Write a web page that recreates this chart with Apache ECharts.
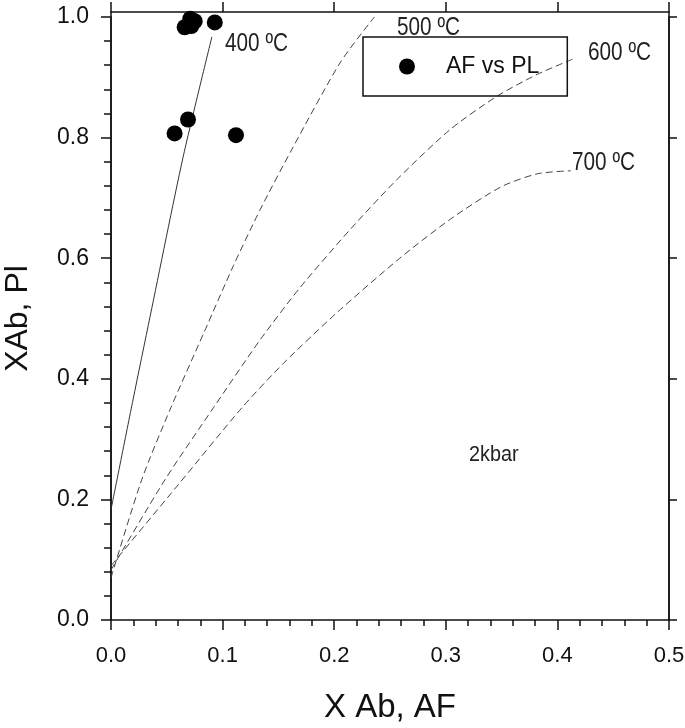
<!DOCTYPE html>
<html>
<head>
<meta charset="utf-8">
<script src="https://cdn.jsdelivr.net/npm/echarts@6/dist/echarts.min.js"></script>
<style>
  html, body { margin: 0; padding: 0; background: #fff; }
  #chart { width: 685px; height: 728px; }
</style>
</head>
<body>
<div id="chart"></div>
<script>
// measured samples: X Ab in alkali feldspar vs X Ab in plagioclase
const afX = [0.071, 0.075, 0.066, 0.072, 0.093, 0.069, 0.057, 0.112];
const plY = [0.997, 0.993, 0.983, 0.985, 0.991, 0.830, 0.807, 0.804];

// isotherms at 2 kbar
const iso400X = [0, 0.0197, 0.035, 0.0644, 0.0904];
const iso400Y = [0.183, 0.365, 0.503, 0.766, 0.967];
const iso500X = [0, 0.0276, 0.0536, 0.0829, 0.1098, 0.1338, 0.1622, 0.2056, 0.236];
const iso500Y = [0.07, 0.233, 0.352, 0.475, 0.588, 0.681, 0.781, 0.925, 1.0];
const iso600X = [0, 0.0485, 0.0918, 0.1338, 0.1697, 0.2145, 0.2565, 0.3043, 0.3462, 0.3821, 0.4136];
const iso600Y = [0.083, 0.233, 0.352, 0.465, 0.552, 0.648, 0.731, 0.814, 0.869, 0.905, 0.930];
const iso700X = [0, 0.0601, 0.1173, 0.1547, 0.2026, 0.2588, 0.3043, 0.3492, 0.3821, 0.412];
const iso700Y = [0.09, 0.224, 0.352, 0.426, 0.510, 0.600, 0.665, 0.718, 0.740, 0.745];

const FONT = 'Arial, "Liberation Sans", sans-serif';

const zip = (xs, ys) => xs.map((x, i) => [x, ys[i]]);

const chart = echarts.init(document.getElementById('chart'), null, { renderer: 'canvas' });

const AX = { color: '#111', width: 1.5 };

const isoLine = (name, xs, ys, dashed) => ({
    name: name,
    type: 'line',
    xAxisIndex: 0,
    yAxisIndex: 0,
    data: zip(xs, ys),
    smooth: 0.25,
    showSymbol: false,
    silent: true,
    lineStyle: {
        color: dashed ? '#444' : '#333',
        width: 1,
        type: dashed ? [7, 4] : 'solid'
    },
    z: 2
});

// condensed label text, as in the original figure
const label = (text, left, top, size, sx) => ({
    type: 'text', left: left, top: top,
    scaleX: sx, originX: 0,
    style: { text: text, fontSize: size, fill: '#222', fontFamily: FONT }
});

const frameAxis = (pos) => ({
    type: 'value', gridIndex: 1, position: pos, min: 0, max: 1,
    axisLine: { show: true, onZero: false, lineStyle: AX },
    axisTick: { show: false }, axisLabel: { show: false }, splitLine: { show: false }
});

const option = {
    animation: false,
    backgroundColor: '#fff',
    textStyle: { fontFamily: FONT },
    grid: [
        // data grid
        { left: 111, right: 16, top: 17, bottom: 108, outerBoundsMode: 'none', containLabel: false },
        // frame grid (box extends a bit above 1.0)
        { left: 111, right: 16, top: 12, bottom: 108, outerBoundsMode: 'none', containLabel: false }
    ],
    xAxis: [
        {
            type: 'value', gridIndex: 0, min: 0, max: 0.5, interval: 0.1,
            name: 'X Ab, AF', nameLocation: 'middle', nameGap: 71,
            nameTextStyle: { fontSize: 33, color: '#111', fontFamily: FONT },
            axisLine: { show: true, onZero: false, lineStyle: AX },
            axisTick: { show: true, inside: false, length: 10, lineStyle: AX },
            minorTick: { show: true, splitNumber: 5, length: 6, lineStyle: AX },
            axisLabel: { fontSize: 22, color: '#111', margin: 25, formatter: v => v.toFixed(1) },
            splitLine: { show: false }
        },
        {
            // top border with upward ticks
            type: 'value', gridIndex: 1, position: 'top', min: 0, max: 0.5, interval: 0.1,
            axisLine: { show: true, onZero: false, lineStyle: AX },
            axisTick: { show: true, inside: false, length: 10, lineStyle: AX },
            axisLabel: { show: false },
            splitLine: { show: false }
        }
    ],
    yAxis: [
        {
            type: 'value', gridIndex: 0, min: 0, max: 1, interval: 0.2,
            name: 'XAb, Pl', nameLocation: 'middle', nameGap: 77,
            nameTextStyle: { fontSize: 32, color: '#111', fontFamily: FONT },
            axisLine: { show: true, onZero: false, lineStyle: AX },
            axisTick: { show: true, inside: false, length: 10, lineStyle: AX },
            minorTick: { show: true, splitNumber: 5, length: 7, lineStyle: AX },
            axisLabel: { fontSize: 23, color: '#111', margin: 22, formatter: v => v.toFixed(1) },
            splitLine: { show: false }
        },
        {
            // right side ticks, pointing out
            type: 'value', gridIndex: 0, position: 'right', min: 0, max: 1, interval: 0.2,
            axisLine: { show: true, onZero: false, lineStyle: AX },
            axisTick: { show: true, inside: false, length: 8, lineStyle: AX },
            axisLabel: { show: false },
            splitLine: { show: false }
        },
        frameAxis('left'),
        frameAxis('right')
    ],
    legend: {
        data: ['AF vs PL'],
        left: 363, top: 37,
        orient: 'vertical',
        borderColor: '#111', borderWidth: 1.5,
        padding: [18, 28, 18, 36],
        itemWidth: 16, itemHeight: 16,
        icon: 'circle',
        textStyle: { fontSize: 23, color: '#111', fontFamily: FONT, padding: [0, 0, 0, 26] }
    },
    graphic: [
        label('400 ºC', 225, 32, 25, 0.83),
        label('500 ºC', 397, 16, 25, 0.83),
        label('600 ºC', 588, 41, 25, 0.83),
        label('700 ºC', 572, 151, 25, 0.83),
        label('2kbar', 469, 444, 22, 0.9)
    ],
    series: [
        isoLine('400', iso400X, iso400Y, false),
        isoLine('500', iso500X, iso500Y, true),
        isoLine('600', iso600X, iso600Y, true),
        isoLine('700', iso700X, iso700Y, true),
        {
            name: 'AF vs PL',
            type: 'scatter',
            xAxisIndex: 0,
            yAxisIndex: 0,
            data: zip(afX, plY),
            symbol: 'circle',
            symbolSize: 16,
            itemStyle: { color: '#000', opacity: 1 },
            z: 5
        }
    ]
};

chart.setOption(option);
</script>
</body>
</html>
